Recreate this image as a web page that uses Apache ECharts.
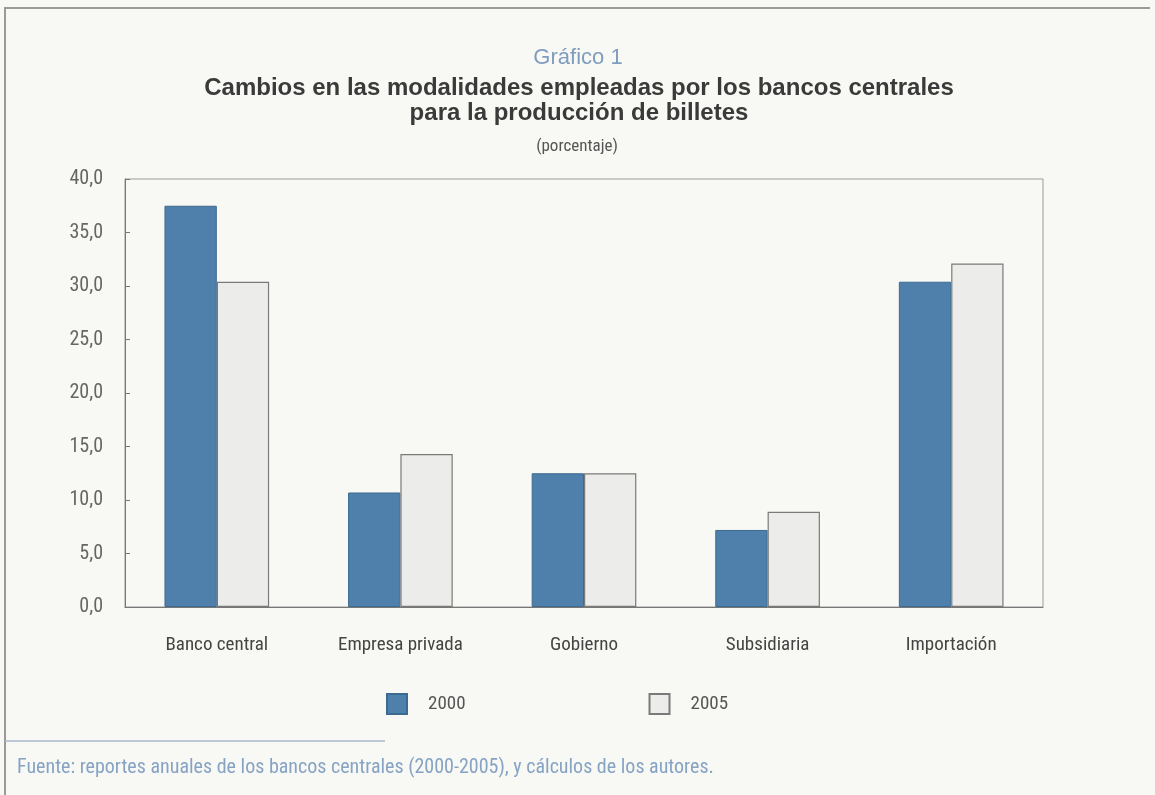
<!DOCTYPE html>
<html><head><meta charset="utf-8">
<script src="https://cdn.jsdelivr.net/npm/echarts@6/dist/echarts.min.js"></script>
<style>html,body{margin:0;padding:0;background:#f8f8f4;}#c{width:1155px;height:795px;}</style>
</head><body><div id="c"></div>
<script>
const categories = ['Banco central', 'Empresa privada', 'Gobierno', 'Subsidiaria', 'Importación'];
const values2000 = [37.5, 10.7, 12.5, 7.2, 30.4];
const values2005 = [30.4, 14.3, 12.5, 8.9, 32.1];
const seriesNames = ['2000', '2005'];
const yTicks = { min: 0, max: 40, interval: 5 };

const narrow = "'Liberation Sans Narrow', 'Roboto Condensed', 'Liberation Sans', sans-serif";
const chart = echarts.init(document.getElementById('c'));
chart.setOption({
  backgroundColor: '#f8f8f4',
  animation: false,
  graphic: [
    { type: 'polyline', shape: { points: [[5, 795], [5, 8], [1150, 8]] }, style: { stroke: '#9a9a9a', lineWidth: 2, fill: null } },
    { type: 'line', shape: { x1: 5, y1: 741, x2: 385, y2: 741 }, style: { stroke: '#a9b8c9', lineWidth: 1.5 } },
    { type: 'text', x: 578, y: 58, style: { text: 'Gráfico 1', font: "22px 'Liberation Sans', Arial, sans-serif", fill: '#7f9dbf', align: 'center', verticalAlign: 'middle' } },
    { type: 'text', x: 579, y: 101, style: { text: 'Cambios en las modalidades empleadas por los bancos centrales\npara la producción de billetes', font: "bold 24px 'Liberation Sans', Arial, sans-serif", fill: '#3a3a3a', align: 'center', verticalAlign: 'middle', lineHeight: 25 } },
    { type: 'text', x: 577, y: 147, style: { text: '(porcentaje)', font: '17px ' + narrow, fill: '#555', align: 'center', verticalAlign: 'middle' } },
    { type: 'text', x: 17, y: 768, style: { text: 'Fuente: reportes anuales de los bancos centrales (2000-2005), y cálculos de los autores.', font: '20px ' + narrow, fill: '#86a3c4', verticalAlign: 'middle' } }
  ],
  legend: {
    top: 688, left: 381,
    itemGap: 183, itemWidth: 20, itemHeight: 20, icon: 'rect',
    textStyle: { fontFamily: narrow, fontSize: 19, color: '#555', padding: [0, 0, 0, 16] },
    data: seriesNames
  },
  grid: { left: 125, right: 112, top: 179, bottom: 188, show: true, borderColor: '#9a9a9a', borderWidth: 1, backgroundColor: 'transparent' },
  xAxis: {
    type: 'category', data: categories,
    axisLine: { lineStyle: { color: '#777' } },
    axisTick: { inside: true, length: 5, lineStyle: { color: '#777' } },
    axisLabel: { fontFamily: narrow, fontSize: 19, color: '#444', margin: 29 }
  },
  yAxis: {
    type: 'value', min: yTicks.min, max: yTicks.max, interval: yTicks.interval,
    splitLine: { show: false },
    axisLine: { show: true, lineStyle: { color: '#777' } },
    axisTick: { show: true, inside: true, length: 5, lineStyle: { color: '#777' } },
    axisLabel: { fontFamily: narrow, fontSize: 20, color: '#666', margin: 22, formatter: v => v.toFixed(1).replace('.', ',') }
  },
  series: [
    { name: seriesNames[0], type: 'bar', data: values2000, barGap: '0%', barCategoryGap: '43%',
      itemStyle: { color: '#4f80ab', borderColor: '#3d6a91', borderWidth: 1 } },
    { name: seriesNames[1], type: 'bar', data: values2005, barGap: '0%', barCategoryGap: '43%',
      itemStyle: { color: '#ececea', borderColor: '#7a7a7a', borderWidth: 1.2 } }
  ]
});
</script></body></html>
